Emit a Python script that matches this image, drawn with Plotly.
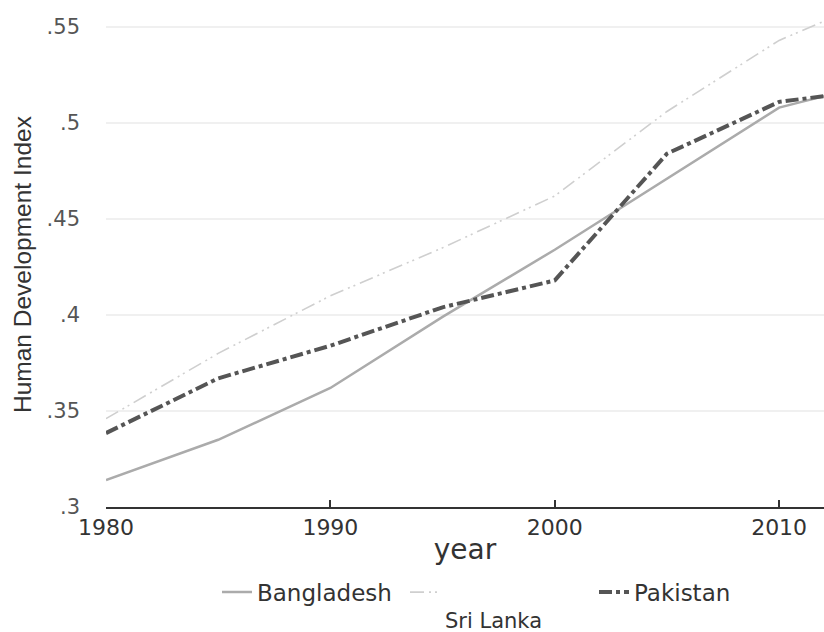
import plotly.graph_objects as go

years = [1980, 1985, 1990, 1995, 2000, 2005, 2010, 2011, 2012]
bangladesh = [0.314, 0.335, 0.362, 0.399, 0.434, 0.471, 0.508, 0.511, 0.514]
sri_lanka = [0.346, 0.380, 0.410, 0.435, 0.462, 0.506, 0.543, 0.548, 0.553]
pakistan = [0.3385, 0.367, 0.384, 0.404, 0.418, 0.484, 0.511, 0.5125, 0.514]

y_ticks = [0.3, 0.35, 0.4, 0.45, 0.5, 0.55]
y_ticklabels = [".3", ".35", ".4", ".45", ".5", ".55"]
x_ticks = [1980, 1990, 2000, 2010]

fig = go.Figure()
fig.add_trace(go.Scatter(x=years, y=bangladesh, mode="lines", name="Bangladesh",
                         line=dict(color="#ababab", width=2.5), legend="legend"))
fig.add_trace(go.Scatter(x=years, y=sri_lanka, mode="lines", name="&nbsp;<br>Sri Lanka",
                         line=dict(color="#cfcfcf", width=1.6, dash="14px,5px,2px,4px,2px,5px"),
                         legend="legend2"))
fig.add_trace(go.Scatter(x=years, y=pakistan, mode="lines", name="Pakistan",
                         line=dict(color="#555555", width=4, dash="13px,4px,4px,4px"),
                         legend="legend3"))

PH = 507  # plot-area height in px
leg_font = dict(family="DejaVu Sans", size=23, color="#333333")
leg_y = -(592 - PH) / PH
fig.update_layout(
    width=824, height=632,
    margin=dict(l=106, r=0, t=0, b=125, autoexpand=False),
    paper_bgcolor="white", plot_bgcolor="white",
    showlegend=True,
    legend=dict(x=(217 - 106) / 718, y=leg_y, xanchor="left", yanchor="middle",
                font=leg_font, bgcolor="rgba(0,0,0,0)", itemwidth=30),
    legend2=dict(x=(405 - 106) / 718, y=-(572 - PH) / PH, xanchor="left", yanchor="top",
                 valign="top", font=dict(family="DejaVu Sans", size=21, color="#333333"),
                 bgcolor="rgba(0,0,0,0)", itemwidth=30),
    legend3=dict(x=(594 - 106) / 718, y=leg_y, xanchor="left", yanchor="middle",
                 font=leg_font, bgcolor="rgba(0,0,0,0)", itemwidth=30),
    xaxis=dict(range=[1980, 2012], tickvals=x_ticks, ticks="inside", ticklen=7,
               tickwidth=2, tickcolor="#333333", showline=True, linecolor="#333333",
               linewidth=2, showgrid=False, zeroline=False, automargin=False,
               tickfont=dict(family="DejaVu Sans", size=22, color="#333333"),
               title=dict(text="year", font=dict(family="DejaVu Sans", size=28, color="#333333"),
                          standoff=0)),
    yaxis=dict(range=[0.3, 0.3 + PH / 1920], tickvals=y_ticks, ticktext=y_ticklabels,
               ticks="", showline=False, showgrid=True, gridcolor="#f0f0f0", gridwidth=1.5,
               zeroline=False, ticklabelstandoff=25, automargin=False,
               tickfont=dict(family="DejaVu Sans", size=21, color="#555555")),
    annotations=[dict(text="Human Development Index", textangle=-90, showarrow=False,
                      xref="paper", yref="paper", x=(22 - 106) / 718, y=(PH - 265) / PH,
                      xanchor="center", yanchor="middle",
                      font=dict(family="Liberation Sans, Arial", size=24.5, color="#333333"))],
)

fig.write_html("out.html", config={"displayModeBar": False},
               post_script="document.body.style.margin='0';document.body.style.overflow='hidden';")
